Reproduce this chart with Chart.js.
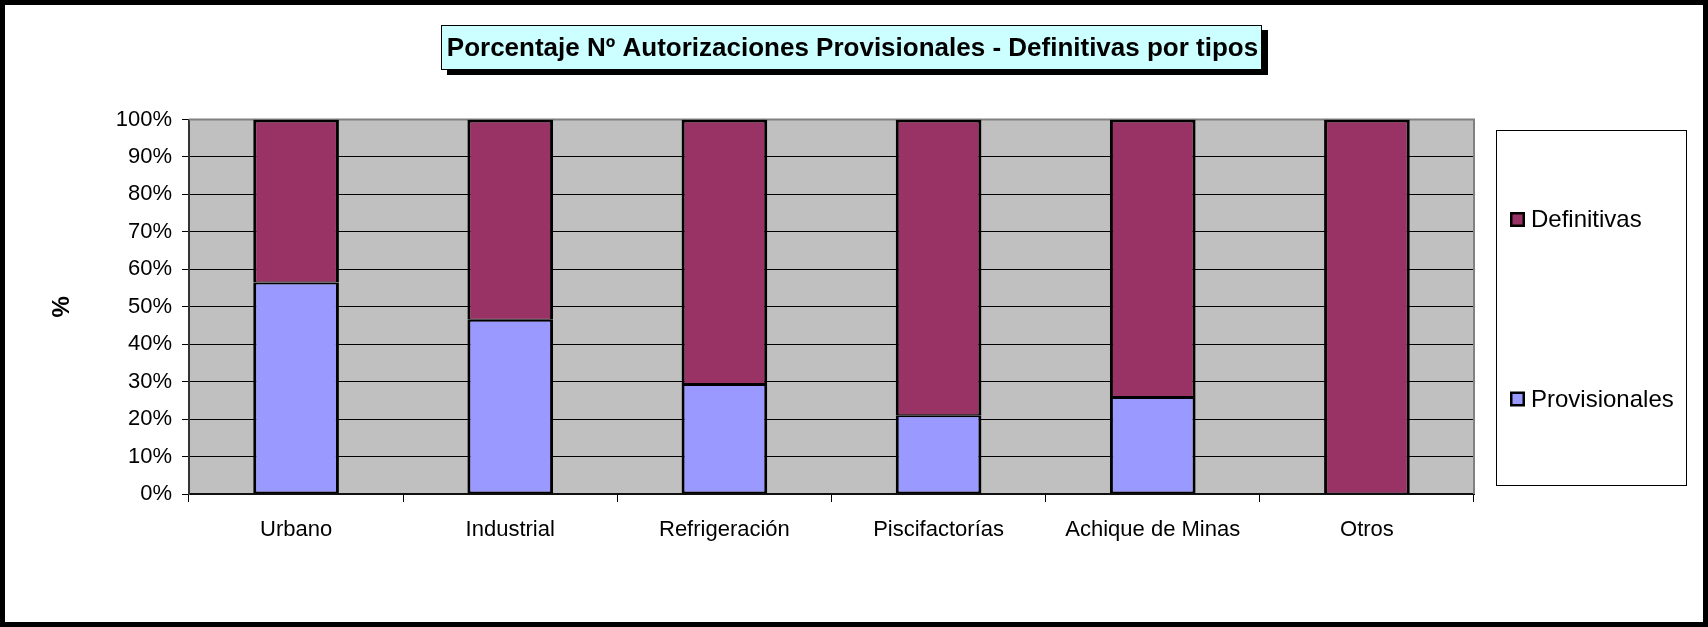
<!DOCTYPE html>
<html>
<head>
<meta charset="utf-8">
<script src="https://cdn.jsdelivr.net/npm/chart.js@4.4.1/dist/chart.umd.min.js"></script>
<style>
  html, body { margin: 0; padding: 0; background: #ffffff; }
  #wrap { position: relative; width: 1708px; height: 627px; }
  canvas { display: block; }
</style>
</head>
<body>
<div id="wrap"><canvas id="c" width="1708" height="627"></canvas></div>
<script>
// ---- data ----
const chartTitle = 'Porcentaje Nº Autorizaciones Provisionales - Definitivas por tipos';
const categories = ['Urbano', 'Industrial', 'Refrigeración', 'Piscifactorías', 'Achique de Minas', 'Otros'];
const provisionales = [56.5, 46.5, 29.4, 21.0, 25.9, 0];
const definitivas = [43.5, 53.5, 70.6, 79.0, 74.1, 100];
const seriesNames = ['Provisionales', 'Definitivas'];
const yTickValues = [0, 10, 20, 30, 40, 50, 60, 70, 80, 90, 100];
const yAxisTitle = '%';

const FONT = '"Liberation Sans", Arial, Helvetica, sans-serif';

const frame = {
  id: 'frame',
  beforeDraw(chart) {
    const { ctx, chartArea: a } = chart;
    ctx.save();
    ctx.fillStyle = '#ffffff';
    ctx.fillRect(0, 0, chart.width, chart.height);
    ctx.fillStyle = '#C0C0C0';
    ctx.fillRect(a.left, a.top, a.right - a.left, a.bottom - a.top);
    ctx.restore();
  },
  beforeDatasetsDraw(chart) {
    const { ctx, chartArea: a } = chart;
    ctx.save();
    ctx.strokeStyle = '#808080';
    ctx.lineWidth = 2;
    ctx.beginPath();
    ctx.moveTo(a.left, a.top);
    ctx.lineTo(a.right, a.top);
    ctx.lineTo(a.right, a.bottom);
    ctx.stroke();
    ctx.restore();
  },
  afterDraw(chart) {
    const ctx = chart.ctx;
    ctx.save();
    // title box with shadow
    const bx = 441, by = 25, bw = 821, bh = 45;
    ctx.fillStyle = '#000000';
    ctx.fillRect(bx + 6, by + 5, bw, bh);
    ctx.fillStyle = '#CCFFFF';
    ctx.fillRect(bx, by, bw, bh);
    ctx.strokeStyle = '#000000';
    ctx.lineWidth = 1;
    ctx.strokeRect(bx + 0.5, by + 0.5, bw - 1, bh - 1);
    ctx.fillStyle = '#000000';
    ctx.font = 'bold 26px ' + FONT;
    ctx.textAlign = 'center';
    ctx.textBaseline = 'middle';
    ctx.fillText(chartTitle, bx + bw / 2 + 1, by + bh / 2 + 1);

    // legend
    const lx = 1496, ly = 130, lw = 190, lh = 355;
    ctx.strokeStyle = '#000000';
    ctx.lineWidth = 1;
    ctx.strokeRect(lx + 0.5, ly + 0.5, lw, lh);
    const ds = chart.data.datasets;
    const items = [ds[1], ds[0]];
    const ys = [219.5, 399];
    ctx.font = '24px ' + FONT;
    ctx.textAlign = 'left';
    ctx.textBaseline = 'middle';
    items.forEach((d, i) => {
      const y = ys[i];
      ctx.fillStyle = '#000000';
      ctx.fillRect(1510, y - 7.5, 15, 15);
      ctx.fillStyle = d.backgroundColor;
      ctx.fillRect(1512.5, y - 5, 10, 10);
      ctx.fillStyle = '#000000';
      ctx.fillText(d.label, 1531, y + 1);
    });

    // outer border
    ctx.strokeStyle = '#000000';
    ctx.lineWidth = 5;
    ctx.strokeRect(2.5, 2.5, chart.width - 5, chart.height - 5);
    ctx.restore();
  }
};

new Chart(document.getElementById('c'), {
  type: 'bar',
  data: {
    labels: categories,
    datasets: [
      {
        label: seriesNames[0],
        data: provisionales,
        backgroundColor: '#9999FF',
        borderColor: '#000000',
        borderWidth: { left: 3, right: 3, top: 2, bottom: 2 },
        borderSkipped: false
      },
      {
        label: seriesNames[1],
        data: definitivas,
        backgroundColor: '#993366',
        borderColor: '#000000',
        borderWidth: { left: 3, right: 3, top: 3, bottom: 1 },
        borderSkipped: false
      }
    ]
  },
  options: {
    responsive: false,
    animation: false,
    devicePixelRatio: 1,
    events: [],
    datasets: { bar: { barPercentage: 0.4, categoryPercentage: 1.0 } },
    layout: { padding: { top: 119.5, left: 0, right: 234, bottom: 0 } },
    plugins: {
      legend: { display: false },
      title: { display: false },
      tooltip: { enabled: false }
    },
    scales: {
      x: {
        stacked: true,
        grid: {
          offset: true,
          drawOnChartArea: false,
          drawTicks: true,
          tickLength: 8,
          color: '#000000',
          tickColor: '#000000',
          lineWidth: 1
        },
        border: { display: true, color: '#111111', width: 2 },
        ticks: {
          color: '#000000',
          font: { family: FONT, size: 22 },
          padding: 15,
          maxRotation: 0,
          autoSkip: false
        },
        afterFit(scale) { scale.height = 133; }
      },
      y: {
        stacked: true,
        min: 0,
        max: 100,
        afterBuildTicks(scale) { scale.ticks = yTickValues.map(v => ({ value: v })); },
        grid: {
          color: (c) => (c.tick && c.tick.value === 100) ? '#808080' : '#000000',
          lineWidth: 1,
          drawTicks: true,
          tickLength: 7,
          tickColor: '#000000'
        },
        border: { display: true, color: '#333333', width: 2 },
        ticks: {
          color: '#000000',
          font: { family: FONT, size: 22 },
          padding: 10,
          callback: (v) => v + '%'
        },
        title: {
          display: true,
          text: yAxisTitle,
          color: '#000000',
          font: { family: FONT, size: 24, weight: 'bold' },
          padding: { top: 48, bottom: 0 }
        },
        afterFit(scale) { scale.width = 189; }
      }
    }
  },
  plugins: [frame]
});
</script>
</body>
</html>
